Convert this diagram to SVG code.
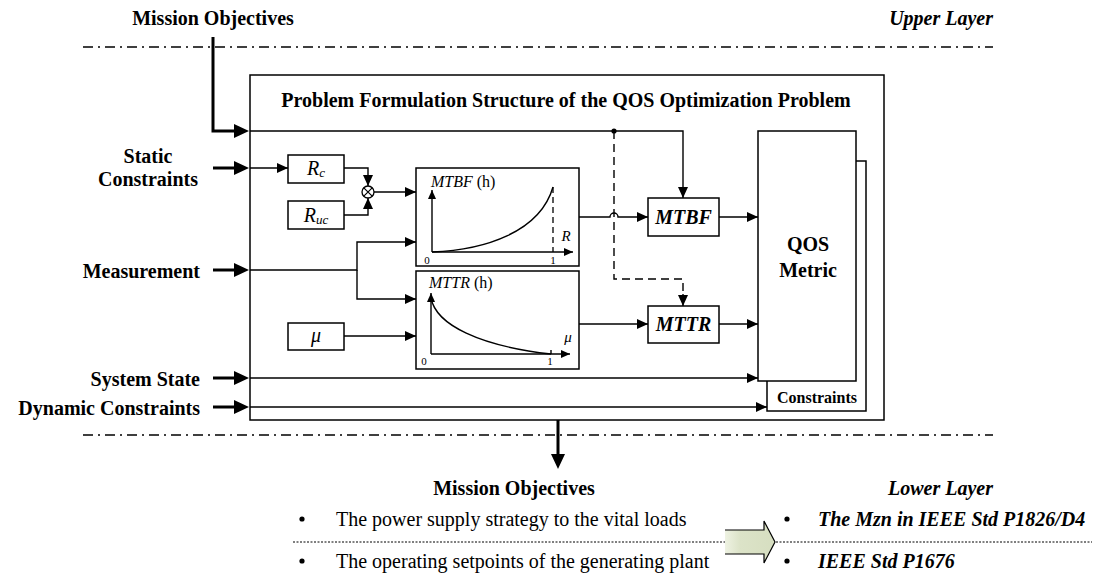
<svg xmlns="http://www.w3.org/2000/svg" width="1102" height="576" viewBox="0 0 1102 576">
<defs>
<style>
text{font-family:"Liberation Serif","Times New Roman",serif;fill:#000}
.b{font-weight:bold;font-size:20px}
.bi{font-weight:bold;font-style:italic;font-size:20px}
.i{font-style:italic;font-size:20px}
.r{font-size:20px}
.sm{font-size:11px}
.box{fill:#fff;stroke:#000;stroke-width:1.5}
.ln{fill:none;stroke:#000;stroke-width:1.4}
.thick{fill:none;stroke:#000;stroke-width:3}
.dd{fill:none;stroke:#000;stroke-width:1.3;stroke-dasharray:10,5,2,5}
.dash{fill:none;stroke:#000;stroke-width:1.4;stroke-dasharray:8,5}
.dot{fill:none;stroke:#000;stroke-width:1;stroke-dasharray:2,1.5}
</style>
<marker id="a" markerUnits="userSpaceOnUse" markerWidth="11" markerHeight="10" refX="11" refY="5" orient="auto"><path d="M0,0 L11,5 L0,10 z" fill="#000"/></marker>
<marker id="ax" markerUnits="userSpaceOnUse" markerWidth="9" markerHeight="8" refX="9" refY="4" orient="auto"><path d="M0,0 L9,4 L0,8 z" fill="#000"/></marker>
<marker id="at" markerUnits="userSpaceOnUse" markerWidth="15" markerHeight="14" refX="10" refY="7" orient="auto"><path d="M0,0 L15,7 L0,14 z" fill="#000"/></marker>
<linearGradient id="g" x1="0" y1="0" x2="1" y2="0"><stop offset="0" stop-color="#eef2e2"/><stop offset="0.3" stop-color="#dce3c8"/><stop offset="1" stop-color="#d6dec0"/></linearGradient>
</defs>
<rect width="1102" height="576" fill="#fff"/>

<g id="layers">
<line class="dd" x1="83" y1="47" x2="993" y2="47"/>
<line class="dd" x1="83" y1="435" x2="993" y2="435"/>
<text class="b" x="213" y="25" text-anchor="middle">Mission Objectives</text>
<text class="bi" x="993" y="25" text-anchor="end">Upper Layer</text>
</g>

<g id="main-box">
<rect class="box" x="250" y="75" width="634" height="345"/>
<text class="b" x="566" y="107" text-anchor="middle">Problem Formulation Structure of the QOS Optimization Problem</text>
</g>

<g id="inputs">
<text class="b" x="148" y="163" text-anchor="middle">Static</text>
<text class="b" x="148" y="186" text-anchor="middle">Constraints</text>
<text class="b" x="200" y="278" text-anchor="end">Measurement</text>
<text class="b" x="200" y="386" text-anchor="end">System State</text>
<text class="b" x="200" y="415" text-anchor="end">Dynamic Constraints</text>
</g>

<g id="constraints-box">
<rect class="box" x="767" y="161" width="99" height="250"/>
<text font-weight="bold" font-size="16" x="817" y="403" text-anchor="middle">Constraints</text>
</g>
<g id="qos-metric">
<rect class="box" x="758" y="131" width="98" height="250"/>
<text class="b" x="808" y="251" text-anchor="middle">QOS</text>
<text class="b" x="808" y="277" text-anchor="middle">Metric</text>
</g>

<g id="rc">
<rect class="box" x="288" y="155" width="56" height="28"/>
<text class="i" x="316" y="175" text-anchor="middle">R<tspan font-size="13" dy="2">c</tspan></text>
</g>
<g id="ruc">
<rect class="box" x="288" y="201" width="56" height="28"/>
<text class="i" x="316" y="222" text-anchor="middle">R<tspan font-size="13" dy="2">uc</tspan></text>
</g>
<g id="mu">
<rect class="box" x="288" y="323" width="56" height="27"/>
<text class="i" x="316" y="342" text-anchor="middle">μ</text>
</g>
<g id="multiplier">
<circle cx="368" cy="192" r="6" fill="#fff" stroke="#000" stroke-width="1.3"/>
<path d="M363.8,187.8 L372.2,196.2 M372.2,187.8 L363.8,196.2" stroke="#000" stroke-width="1.2"/>
</g>

<g id="mtbf-plot">
<rect class="box" x="416" y="168" width="163" height="98"/>
<text x="431" y="187" font-size="16"><tspan font-style="italic">MTBF</tspan> (h)</text>
<line class="ln" x1="432" y1="252" x2="432" y2="190" marker-end="url(#ax)"/>
<line class="ln" x1="432" y1="252" x2="573" y2="252" marker-end="url(#ax)"/>
<path class="ln" d="M432,252 C485,250 540,232 553,187"/>
<line x1="553" y1="187" x2="553" y2="252" stroke="#000" stroke-width="1.3" stroke-dasharray="6,4"/>
<text class="sm" x="427" y="264" text-anchor="middle">0</text>
<text class="sm" x="553" y="264" text-anchor="middle">1</text>
<text font-style="italic" font-size="15" x="566" y="241" text-anchor="middle">R</text>
</g>

<g id="mttr-plot">
<rect class="box" x="416" y="271" width="163" height="98"/>
<text x="429" y="288" font-size="16"><tspan font-style="italic">MTTR</tspan> (h)</text>
<line class="ln" x1="431" y1="354" x2="431" y2="293" marker-end="url(#ax)"/>
<line class="ln" x1="431" y1="354" x2="570" y2="354" marker-end="url(#ax)"/>
<path class="ln" d="M431,298 C436,325 480,346 551,354"/>
<line class="ln" x1="551" y1="350" x2="551" y2="354"/>
<text class="sm" x="424" y="365" text-anchor="middle">0</text>
<text class="sm" x="550" y="365" text-anchor="middle">1</text>
<text font-style="italic" font-size="15" x="568" y="342" text-anchor="middle">μ</text>
</g>

<g id="mtbf">
<rect class="box" x="648" y="198" width="71" height="38"/>
<text class="bi" x="683.5" y="224" text-anchor="middle">MTBF</text>
</g>
<g id="mttr">
<rect class="box" x="648" y="306" width="71" height="37"/>
<text class="bi" x="683.5" y="331" text-anchor="middle">MTTR</text>
</g>

<g id="connectors">
<path class="thick" d="M213,37 V131 H244" marker-end="url(#at)"/>
<path class="thick" d="M213,168 H244" marker-end="url(#at)"/>
<path class="thick" d="M213,270 H244" marker-end="url(#at)"/>
<path class="thick" d="M213,378 H244" marker-end="url(#at)"/>
<path class="thick" d="M213,407 H244" marker-end="url(#at)"/>
<path class="thick" d="M558,420 V464" marker-end="url(#at)"/>
<path class="ln" d="M250,131 H683 V198" marker-end="url(#a)"/>
<circle cx="614" cy="131" r="2.6" fill="#000"/>
<path class="dash" d="M614,131 V279 H683 V296"/>
<path class="ln" d="M683,294 V306" marker-end="url(#a)"/>
<path class="ln" d="M250,168 H288" marker-end="url(#a)"/>
<path class="ln" d="M344,168 H368 V186" marker-end="url(#a)"/>
<path class="ln" d="M344,215 H368 V198" marker-end="url(#a)"/>
<path class="ln" d="M374,192 H416" marker-end="url(#a)"/>
<path class="ln" d="M250,270 H357 V242 H416" marker-end="url(#a)"/>
<path class="ln" d="M357,270 V299 H416" marker-end="url(#a)"/>
<path class="ln" d="M344,336 H416" marker-end="url(#a)"/>
<path class="ln" d="M579,217 H610 A4,4 0 0 1 618,217 H648" marker-end="url(#a)"/>
<path class="ln" d="M579,324 H648" marker-end="url(#a)"/>
<path class="ln" d="M719,217 H758" marker-end="url(#a)"/>
<path class="ln" d="M719,324 H758" marker-end="url(#a)"/>
<path class="ln" d="M250,378 H758" marker-end="url(#a)"/>
<path class="ln" d="M250,407 H767" marker-end="url(#a)"/>
</g>

<g id="lower-layer">
<text class="b" x="514" y="495" text-anchor="middle">Mission Objectives</text>
<text class="bi" x="993" y="495" text-anchor="end">Lower Layer</text>
<line class="dot" x1="293" y1="542" x2="1092" y2="542"/>
<circle cx="302" cy="519" r="2.6" fill="#000"/>
<text class="r" x="336" y="526">The power supply strategy to the vital loads</text>
<circle cx="302" cy="561" r="2.6" fill="#000"/>
<text class="r" x="336" y="568">The operating setpoints of the generating plant</text>
<circle cx="787" cy="519" r="2.6" fill="#000"/>
<text class="bi" x="818" y="526">The Mzn in IEEE Std P1826/D4</text>
<circle cx="787" cy="561" r="2.6" fill="#000"/>
<text class="bi" x="818" y="568">IEEE Std P1676</text>
</g>

<g id="block-arrow">
<path d="M725,530 H764 V521 L775,542 L764,563 V554 H725 z" fill="url(#g)" stroke="none"/>
<path d="M725,530 H764 V521 L775,542 L764,563 V554 H725" fill="none" stroke="#000" stroke-width="1.2"/>
</g>
</svg>
